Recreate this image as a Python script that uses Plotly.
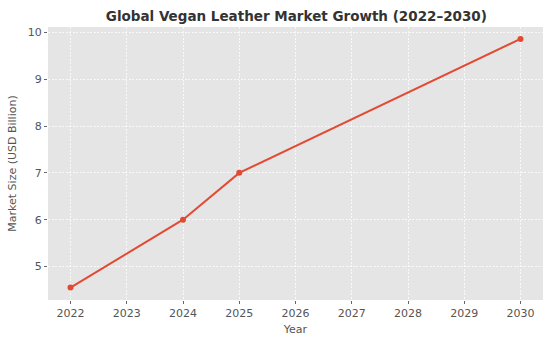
import plotly.graph_objects as go

years = [2022, 2024, 2025, 2030]
market_size = [4.55, 6.0, 7.0, 9.86]
x_ticks = [2022, 2023, 2024, 2025, 2026, 2027, 2028, 2029, 2030]
y_ticks = [5, 6, 7, 8, 9, 10]

font_family = "DejaVu Sans"

fig = go.Figure()
fig.add_trace(go.Scatter(
    x=years, y=market_size, mode="lines+markers",
    line=dict(color="#E24A33", width=2),
    marker=dict(color="#E24A33", size=6),
    hoverinfo="skip",
))

axis_common = dict(
    showgrid=True, gridcolor="rgba(255,255,255,0.75)", griddash="2px,1.5px", gridwidth=0.8,
    zeroline=False, showline=False,
    ticks="outside", ticklen=3, tickwidth=0.8, tickcolor="#666666",
    tickfont=dict(family=font_family, size=11, color="#555555"),
)

fig.update_layout(
    width=554, height=347,
    margin=dict(l=48, r=11, t=27, b=47),
    paper_bgcolor="white", plot_bgcolor="#E5E5E5",
    showlegend=False,
    title=dict(
        text="<b>Global Vegan Leather Market Growth (2022–2030)</b>",
        font=dict(family=font_family, size=13.5, color="#333333"),
        x=0.535, xanchor="center", y=0.953, yanchor="middle",
    ),
    xaxis=dict(
        range=[2021.6, 2030.4], tickvals=x_ticks,
        title=dict(text="Year", font=dict(family=font_family, size=11, color="#555555"), standoff=6),
        **axis_common,
    ),
    yaxis=dict(
        range=[4.285, 10.115], tickvals=y_ticks,
        title=dict(text="Market Size (USD Billion)", font=dict(family=font_family, size=11, color="#555555"), standoff=8),
        **axis_common,
    ),
)

fig.write_html("out.html")
